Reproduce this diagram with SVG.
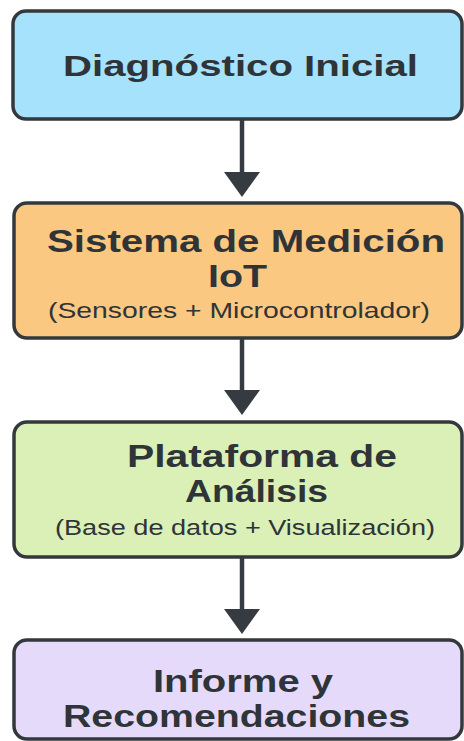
<svg xmlns="http://www.w3.org/2000/svg" width="464" height="741" viewBox="0 0 464 741">
<style>
.box{stroke:#33383d;stroke-width:3.5}
.t{font-family:"Liberation Sans",Arial,sans-serif;font-weight:700;fill:#2f3438}
.s{font-family:"Liberation Sans",Arial,sans-serif;font-weight:400;fill:#2f3438}
.conn{stroke:#363b41;stroke-width:4.5;fill:none}
.head{fill:#363b41}
</style>
<rect width="464" height="741" fill="#ffffff"/>
<g id="n1">
<rect class="box" x="13" y="11" width="449" height="108" rx="13" fill="#a6e2fb"/>
<text class="t" x="63" y="76" font-size="30" textLength="355" lengthAdjust="spacingAndGlyphs">Diagnóstico Inicial</text>
</g>
<g id="n2">
<rect class="box" x="14" y="203" width="448" height="135" rx="13" fill="#fac880"/>
<text class="t" x="47" y="252" font-size="31" textLength="398" lengthAdjust="spacingAndGlyphs">Sistema de Medición</text>
<text class="t" x="208" y="287" font-size="31" textLength="59" lengthAdjust="spacingAndGlyphs">IoT</text>
<text class="s" x="48" y="318" font-size="22" textLength="382" lengthAdjust="spacingAndGlyphs">(Sensores + Microcontrolador)</text>
</g>
<g id="n3">
<rect class="box" x="14" y="422" width="448" height="135" rx="13" fill="#daf0b7"/>
<text class="t" x="127" y="467" font-size="31" textLength="270" lengthAdjust="spacingAndGlyphs">Plataforma de</text>
<text class="t" x="185" y="502" font-size="31" textLength="143" lengthAdjust="spacingAndGlyphs">Análisis</text>
<text class="s" x="55" y="535" font-size="22" textLength="380" lengthAdjust="spacingAndGlyphs">(Base de datos + Visualización)</text>
</g>
<g id="n4">
<rect class="box" x="14" y="640" width="448" height="99" rx="13" fill="#e6dafb"/>
<text class="t" x="153" y="692" font-size="31" textLength="180" lengthAdjust="spacingAndGlyphs">Informe y</text>
<text class="t" x="63" y="727" font-size="31" textLength="347" lengthAdjust="spacingAndGlyphs">Recomendaciones</text>
</g>
<g id="connectors">
<line class="conn" x1="242" y1="120" x2="242" y2="174"/>
<polygon class="head" points="224,172 260,172 242,197"/>
<line class="conn" x1="242" y1="339" x2="242" y2="392"/>
<polygon class="head" points="224,390 260,390 242,415"/>
<line class="conn" x1="242" y1="558" x2="242" y2="611"/>
<polygon class="head" points="224,609 260,609 242,634"/>
</g>
</svg>
